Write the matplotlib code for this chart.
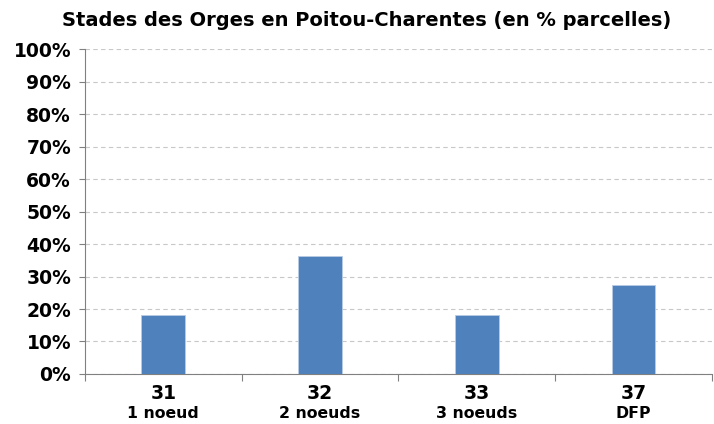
import matplotlib
matplotlib.use("Agg")
import matplotlib.pyplot as plt
import numpy as np
from matplotlib.ticker import PercentFormatter

codes = ['31', '32', '33', '37']
stades = ['1 noeud', '2 noeuds', '3 noeuds', 'DFP']
values = [18.2, 36.4, 18.2, 27.3]

fig = plt.figure(figsize=(7.14, 4.24), dpi=100)
ax = fig.add_axes([0.119, 0.118, 0.878, 0.766])

x = np.arange(len(codes))
ax.bar(x, values, width=0.28, color='#4F81BD', edgecolor='#B8CCE4', linewidth=0.6, zorder=3)

ax.set_xlim(-0.5, len(codes) - 0.5)
ax.set_ylim(0, 100)
ax.set_yticks(np.arange(0, 101, 10))
ax.yaxis.set_major_formatter(PercentFormatter(decimals=0))
ax.grid(axis='y', color='#C8C8C8', linestyle=(0, (4, 3)), linewidth=0.8, zorder=0)

# category boundaries as x ticks
ax.set_xticks(np.arange(-0.5, len(codes), 1.0))
ax.set_xticklabels([])
ax.tick_params(axis='x', length=5, color='#808080', direction='out')
ax.tick_params(axis='y', length=4, color='#808080', direction='out', labelsize=13.5, pad=6)
for lab in ax.get_yticklabels():
    lab.set_fontweight('bold')

trans = ax.get_xaxis_transform()
for i, (c, s) in enumerate(zip(codes, stades)):
    ax.text(i, -0.03, c, transform=trans, ha='center', va='top',
            fontsize=13.5, fontweight='bold')
    ax.text(i, -0.098, s, transform=trans, ha='center', va='top',
            fontsize=11.3, fontweight='bold')

for side in ['top', 'right']:
    ax.spines[side].set_visible(False)
ax.spines['left'].set_color('#808080')
ax.spines['bottom'].set_color('#808080')

fig.text(0.513, 0.975, 'Stades des Orges en Poitou-Charentes (en % parcelles)',
         ha='center', va='top', fontsize=14, fontweight='bold')

fig.savefig('out.png', dpi=100)
